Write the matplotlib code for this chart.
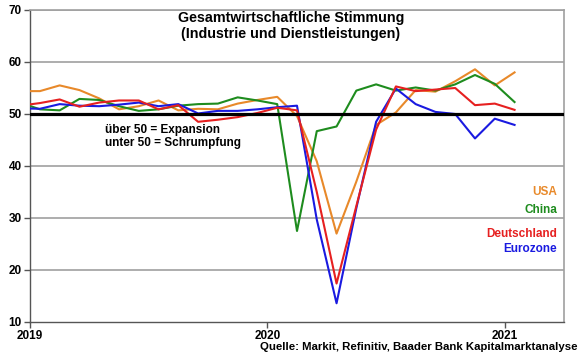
import numpy as np
import matplotlib
matplotlib.use("Agg")
import matplotlib.pyplot as plt

plt.rcParams['font.family'] = ['Liberation Sans', 'DejaVu Sans']
plt.rcParams['font.weight'] = 'bold'

# Monatswerte Dez 2018 .. Jan 2021 (Index 0 = Jan 2019)
months = np.arange(-1, 25)

usa = [54.4, 54.4, 55.5, 54.6, 53.0, 50.9, 51.5, 52.6, 50.7, 51.0, 50.9, 52.0, 52.7,
       53.3, 49.6, 40.9, 27.0, 37.0, 47.9, 50.3, 54.6, 54.3, 56.3, 58.6, 55.5, 58.0]
china = [52.2, 50.9, 50.7, 52.9, 52.7, 51.5, 50.6, 50.9, 51.6, 51.9, 52.0, 53.2, 52.6,
         51.9, 27.5, 46.7, 47.6, 54.5, 55.7, 54.5, 55.1, 54.5, 55.7, 57.5, 55.8, 52.3]
deutschland = [51.6, 52.1, 52.8, 51.4, 52.2, 52.6, 52.6, 50.9, 51.7, 48.5, 48.9, 49.4, 50.2,
               51.2, 50.7, 35.0, 17.4, 32.3, 47.0, 55.3, 54.4, 54.7, 55.0, 51.7, 52.0, 50.8]
eurozone = [51.1, 51.0, 51.9, 51.6, 51.5, 51.8, 52.2, 51.5, 51.9, 50.1, 50.6, 50.6, 50.9,
            51.3, 51.6, 29.7, 13.6, 31.9, 48.5, 54.9, 51.9, 50.4, 50.0, 45.3, 49.1, 47.9]

year_ticks = [-0.5, 11.5, 23.5]
year_labels = ['2019', '2020', '2021']

c_usa = '#E8892A'
c_china = '#1E8C1E'
c_de = '#E62020'
c_ez = '#1A1AE0'

fig = plt.figure(figsize=(5.8, 3.59), dpi=100)
ax = fig.add_axes([30/580, 1 - 322/359, 534/580, 312/359])

ax.set_xlim(-0.5, 26.5)
ax.set_ylim(10, 70)
ax.set_yticks([10, 20, 30, 40, 50, 60, 70])
ax.set_xticks(year_ticks)
ax.set_xticklabels(year_labels)

for y in [20, 30, 40, 60, 70]:
    ax.axhline(y, color='#A0A0A0', lw=1.2, zorder=1)

ax.plot(months, usa, color=c_usa, lw=1.5, zorder=3)
ax.plot(months, china, color=c_china, lw=1.5, zorder=3)
ax.plot(months, eurozone, color=c_ez, lw=1.5, zorder=3)
ax.plot(months, deutschland, color=c_de, lw=1.5, zorder=4)
ax.axhline(50, color='black', lw=2.3, zorder=5)

for s in ['top', 'right']:
    ax.spines[s].set_color('#A0A0A0')
    ax.spines[s].set_linewidth(1.2)
for s in ['left', 'bottom']:
    ax.spines[s].set_color('#555555')
    ax.spines[s].set_linewidth(1.0)

ax.tick_params(axis='both', direction='out', length=4, width=1, color='#555555',
               labelsize=8.5, pad=2)
for lab in ax.get_xticklabels() + ax.get_yticklabels():
    lab.set_fontweight('bold')

fig.text(291/580, 1 - 18/359, 'Gesamtwirtschaftliche Stimmung', ha='center', va='center',
         fontsize=10.3, fontweight='bold')
fig.text(291/580, 1 - 34/359, '(Industrie und Dienstleistungen)', ha='center', va='center',
         fontsize=10.3, fontweight='bold')

fig.text(105/580, 1 - 130/359, 'über 50 = Expansion', ha='left', va='center',
         fontsize=8.5, fontweight='bold')
fig.text(105/580, 1 - 143/359, 'unter 50 = Schrumpfung', ha='left', va='center',
         fontsize=8.5, fontweight='bold')

fig.text(557/580, 1 - 192/359, 'USA', color=c_usa, ha='right', va='center', fontsize=8.5, fontweight='bold')
fig.text(557/580, 1 - 210/359, 'China', color=c_china, ha='right', va='center', fontsize=8.5, fontweight='bold')
fig.text(557/580, 1 - 234/359, 'Deutschland', color=c_de, ha='right', va='center', fontsize=8.5, fontweight='bold')
fig.text(557/580, 1 - 249/359, 'Eurozone', color=c_ez, ha='right', va='center', fontsize=8.5, fontweight='bold')

fig.text(577/580, 1 - 347/359, 'Quelle: Markit, Refinitiv, Baader Bank Kapitalmarktanalyse',
         ha='right', va='center', fontsize=8.2, fontweight='bold')

fig.savefig('out.png', dpi=100)
